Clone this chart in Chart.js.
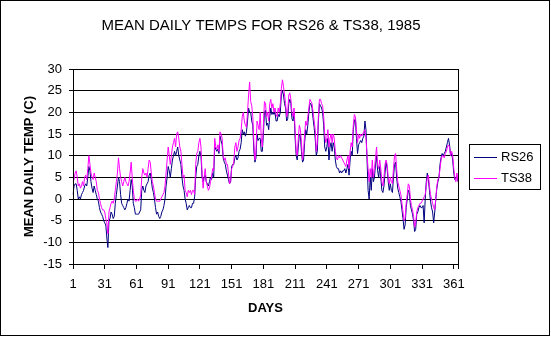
<!DOCTYPE html>
<html>
<head>
<meta charset="utf-8">
<script src="https://cdn.jsdelivr.net/npm/chart.js@4/dist/chart.umd.min.js"></script>
<style>
html,body{margin:0;padding:0;background:#fff;}
#wrap{width:551px;height:337px;}
</style>
</head>
<body>
<div id="wrap"><canvas id="c" width="551" height="337"></canvas></div>
<script>
const chartTitle = "MEAN DAILY TEMPS FOR RS26 & TS38, 1985";
const xTitle = "DAYS";
const yTitle = "MEAN DAILY TEMP (C)";
const seriesNames = ["RS26", "TS38"];
const xTickLabels = ["1","31","61","91","121","151","181","211","241","271","301","331","361"];
const yTicks = [-15,-10,-5,0,5,10,15,20,25,30];
const days = [];
for (let d = 1; d <= 365; d++) days.push(String(d));

const rs26 = [
 1, 3, 3.5, 3.5, 2, 0, 0.5, 0, 1, 1.5,
 2, 3, 3.5, 3, 5, 7.5, 6.5, 4, 2.5, 1.5,
 3, 2, 1, 0, -0.5, -2, -3, -3.5, -4, -5,
 -5.5, -6, -9, -11.2, -5, -4.5, -3, -3.5, -4.5, -4,
 -1, 1, 3, 5, 4, 1, -1, -1.5, -2, -2.5,
 -2, -1, 0, -0.5, 2, 4.5, 3, -1, -2, -3.5,
 -3.5, -3.5, -3.5, -3, -2.5, 2, 3, 2, 1.5, 3,
 3.5, 4, 5.5, 6, 4.5, 2.5, 1.5, 0, -2, -3.5,
 -3, -4, -4.5, -4, -3, -2.5, -1.5, 0, 3, 5,
 7.5, 6.5, 5, 7, 9, 10, 11, 10, 11, 12,
 10, 9, 8, 5, 3, 2, 0, -1, -2.5, -2,
 -1.5, -2, -2, -1, -1, 0.5, 5, 7.5, 8, 10,
 11, 10, 5, 4, 5, 5.5, 4, 3.5, 3, 4,
 5, 4.5, 6, 5, 12, 11.5, 11, 11.5, 10.5, 14.5,
 13.5, 12.5, 9.5, 8.5, 8, 6.5, 5.5, 4.5, 3.5, 4,
 7.5, 8, 8, 9.5, 10, 9, 9.5, 11, 11.5, 13,
 16, 15, 15.5, 14.5, 15.5, 18, 21, 20, 20, 18,
 17, 11, 8.5, 9.5, 15, 13.5, 14, 14, 11, 11,
 15, 20, 20.5, 17, 17.5, 16, 19, 21, 19.5, 20,
 19.5, 20, 18, 18, 19.5, 19, 20, 24, 25, 24,
 22, 21, 18, 18.5, 22, 23, 22, 18.5, 18, 20,
 14, 10, 9, 12, 15, 14.5, 11, 8.5, 9, 13,
 16, 15, 17, 20, 22, 22, 21, 18.5, 16.5, 14,
 10, 11, 18, 22, 21.5, 21, 20, 17, 12, 11,
 12, 14, 9, 12, 13, 11, 13, 12, 9, 7.5,
 7, 7, 6, 6.5, 6, 6.5, 6.5, 7, 6, 7,
 8, 5.5, 9, 11, 10, 16, 18, 18.5, 14, 10.5,
 12.5, 13, 13.5, 13, 14, 14.5, 18, 16, 9, 2,
 0, 5, 2, 7, 4, 5, 8, 10, 6.5, 5,
 7.5, 5, 2, 1.5, 3, 6, 8.5, 7, 4, 2,
 3.5, 2, 1.5, 5, 8, 8.5, 5, 2.5, 1.5, 0.5,
 -0.5, -2.5, -4.5, -7, -6, -2, 0, 2, 1.5, -1.5,
 -2.5, -3.5, -5, -7.5, -7, -3.5, -3, -2, -1.5, -2,
 -2, -1.5, -5.5, 0, 4, 6, 4.5, 2, -0.5, -2,
 -3, -5.5, -3, 0, 2.5, 4, 5, 8, 9.5, 10.5,
 10, 10.5, 11, 12, 13, 14, 12.5, 10, 10.5, 9,
 6, 4.5, 5, 5, 4
];

const ts38 = [
 4, 4.5, 6, 6.5, 5, 3, 3.5, 2.5, 3, 4,
 3, 5, 5.5, 4.5, 7, 10, 8, 6, 5, 4.5,
 6, 5, 4, 2, 1.5, 0, -1, -2, -2.5, -2.5,
 -3, -4.5, -5.5, -8, -3, -2, -1, -0.5, -1, 0,
 2, 4, 6, 9.5, 7, 5, 4, 3, 4, 5,
 4, 3.5, 3, 4, 6, 8.5, 5, 2, 0, -0.5,
 -0.5, 0, -0.5, 0, 1, 5, 7, 6, 5.5, 6,
 5, 7, 9, 8.5, 6, 4, 3, 1.5, 0, -0.5,
 -0.5, -0.5, -0.5, 0, 0.5, 1, 1.5, 3, 6, 9,
 12, 10, 8, 10, 12, 13, 14, 12, 15, 15.5,
 14, 12, 11, 8, 5, 5.5, 2, 1.5, 0.5, 2,
 1.5, 2, 1, 2, 2, 1, 8, 10.5, 11, 13,
 14, 12, 6, 2.5, 5, 7, 4, 3, 2, 2.5,
 4, 5, 7, 6.5, 14, 12, 11.5, 12.5, 11, 15.5,
 15, 14, 10, 9, 9.5, 8, 8, 6, 3.5, 4,
 7, 7.5, 8.5, 12, 13, 11, 12, 13.5, 14, 16,
 19, 20, 18, 17, 16.5, 20, 24, 27, 22.5, 21.5,
 19, 13, 9, 11, 18, 17, 16, 20, 14, 12,
 17, 22.5, 22, 19, 20, 18, 22, 23, 21, 22,
 20, 21, 19.5, 19, 21, 20, 22, 25.5, 27.5, 26,
 24, 22, 19, 20, 24, 24.5, 23, 20, 19, 21,
 16, 11, 10, 14, 17, 16, 13, 9, 11, 15,
 18, 17, 19, 21, 23, 22.5, 22, 20, 18, 16,
 11, 13, 19, 23, 23, 22, 21.5, 19, 15, 13,
 14, 16, 12, 14, 15, 13, 15, 14, 11, 9.5,
 9, 10, 9.5, 10, 9.5, 9, 8.5, 8, 7.5, 9,
 10, 7, 11, 13, 12, 17, 19.5, 19, 16, 13,
 15, 14, 15, 14.5, 15, 15.5, 16, 14, 10, 7,
 4, 7, 5, 9, 5, 7, 9.5, 12, 8, 7,
 9, 7, 4, 3, 5, 8, 9, 8, 5, 3.5,
 5, 4, 3.5, 7, 10, 10.5, 7, 4, 3, 2,
 1, -1, -3, -5, -4.5, -1, 1, 3.5, 3, 0,
 -1.5, -2.5, -4, -6.5, -5.5, -3, -2, -1.5, -1, -1,
 -0.5, 0, 0.5, 1, 3, 5, 5.5, 3, 1, 0,
 -1, -2, -2.5, 0, 3, 4.5, 5, 7, 9, 10,
 10, 9.5, 10.5, 11, 12, 12.5, 12, 10, 11, 10,
 7, 5, 4, 6, 4
];

const colors = ["#000080", "#FF00FF"];
const FONT = "'Liberation Sans', Arial, sans-serif";

const framePlugin = {
  id: 'frame',
  beforeDraw(chart) {
    const ctx = chart.ctx;
    ctx.save();
    ctx.fillStyle = '#fff';
    ctx.fillRect(0, 0, chart.width, chart.height);
    ctx.restore();
  },
  afterDraw(chart) {
    const ctx = chart.ctx;
    const a = chart.chartArea;
    ctx.save();
    ctx.strokeStyle = '#000';
    ctx.lineWidth = 1;
    // plot area border
    ctx.strokeRect(Math.round(a.left) + 0.5, Math.round(a.top) + 0.5,
                   Math.round(a.right - a.left), Math.round(a.bottom - a.top));
    // chart border
    ctx.strokeRect(0.5, 0.5, chart.width - 2, chart.height - 2);
    // title
    ctx.fillStyle = '#000';
    ctx.font = "15px " + FONT;
    ctx.textAlign = 'center';
    ctx.textBaseline = 'middle';
    ctx.fillText(chartTitle, 261, 26);
    // legend
    ctx.strokeRect(469.5, 144.5, 71, 45);
    ctx.font = "13px " + FONT;
    ctx.textAlign = 'left';
    const ys = [157.5, 178.5];
    chart.data.datasets.forEach((ds, i) => {
      ctx.strokeStyle = ds.borderColor;
      ctx.beginPath();
      ctx.moveTo(474, ys[i]);
      ctx.lineTo(497, ys[i]);
      ctx.stroke();
      ctx.fillStyle = '#000';
      ctx.fillText(ds.label, 501, ys[i]);
    });
    ctx.restore();
  }
};

new Chart(document.getElementById('c'), {
  type: 'line',
  data: {
    labels: days,
    datasets: [
      { label: seriesNames[0], data: rs26, borderColor: colors[0], backgroundColor: colors[0],
        borderWidth: 1, pointRadius: 0, tension: 0, fill: false, order: 2 },
      { label: seriesNames[1], data: ts38, borderColor: colors[1], backgroundColor: colors[1],
        borderWidth: 1, pointRadius: 0, tension: 0, fill: false, order: 1 }
    ]
  },
  options: {
    responsive: false,
    animation: false,
    devicePixelRatio: 1,
    layout: { padding: { left: 0, top: 69, right: 93, bottom: 0 } },
    plugins: { legend: { display: false }, tooltip: { enabled: false }, title: { display: false } },
    scales: {
      x: {
        type: 'category',
        offset: false,
        afterFit(scale) { scale.height = 73; },
        border: { display: true, color: '#000', width: 1 },
        grid: {
          drawOnChartArea: false,
          drawTicks: true,
          tickLength: 5,
          color: (ctx) => (ctx.index % 30 === 0 || ctx.index === 364) ? '#000' : 'rgba(0,0,0,0)'
        },
        ticks: {
          autoSkip: false,
          maxRotation: 0,
          minRotation: 0,
          color: '#000',
          padding: 8,
          font: { family: FONT, size: 13 },
          callback: function(value, index) {
            const lab = this.getLabelForValue(value);
            return xTickLabels.includes(lab) ? lab : '';
          }
        },
        title: { display: true, text: xTitle, color: '#000',
                 font: { family: FONT, size: 13, weight: 'bold' },
                 padding: { top: 0, bottom: 21 } }
      },
      y: {
        min: yTicks[0],
        max: yTicks[yTicks.length - 1],
        afterFit(scale) { scale.width = 73; },
        border: { display: true, color: '#000', width: 1 },
        grid: { color: '#000', lineWidth: 1, tickLength: 4, drawTicks: true },
        ticks: { stepSize: 5, color: '#000', padding: 7,
                 font: { family: FONT, size: 13 } },
        title: { display: true, text: yTitle, color: '#000',
                 font: { family: FONT, size: 13, weight: 'bold' },
                 padding: { top: 22, bottom: 0 } }
      }
    }
  },
  plugins: [framePlugin]
});
</script>
</body>
</html>
